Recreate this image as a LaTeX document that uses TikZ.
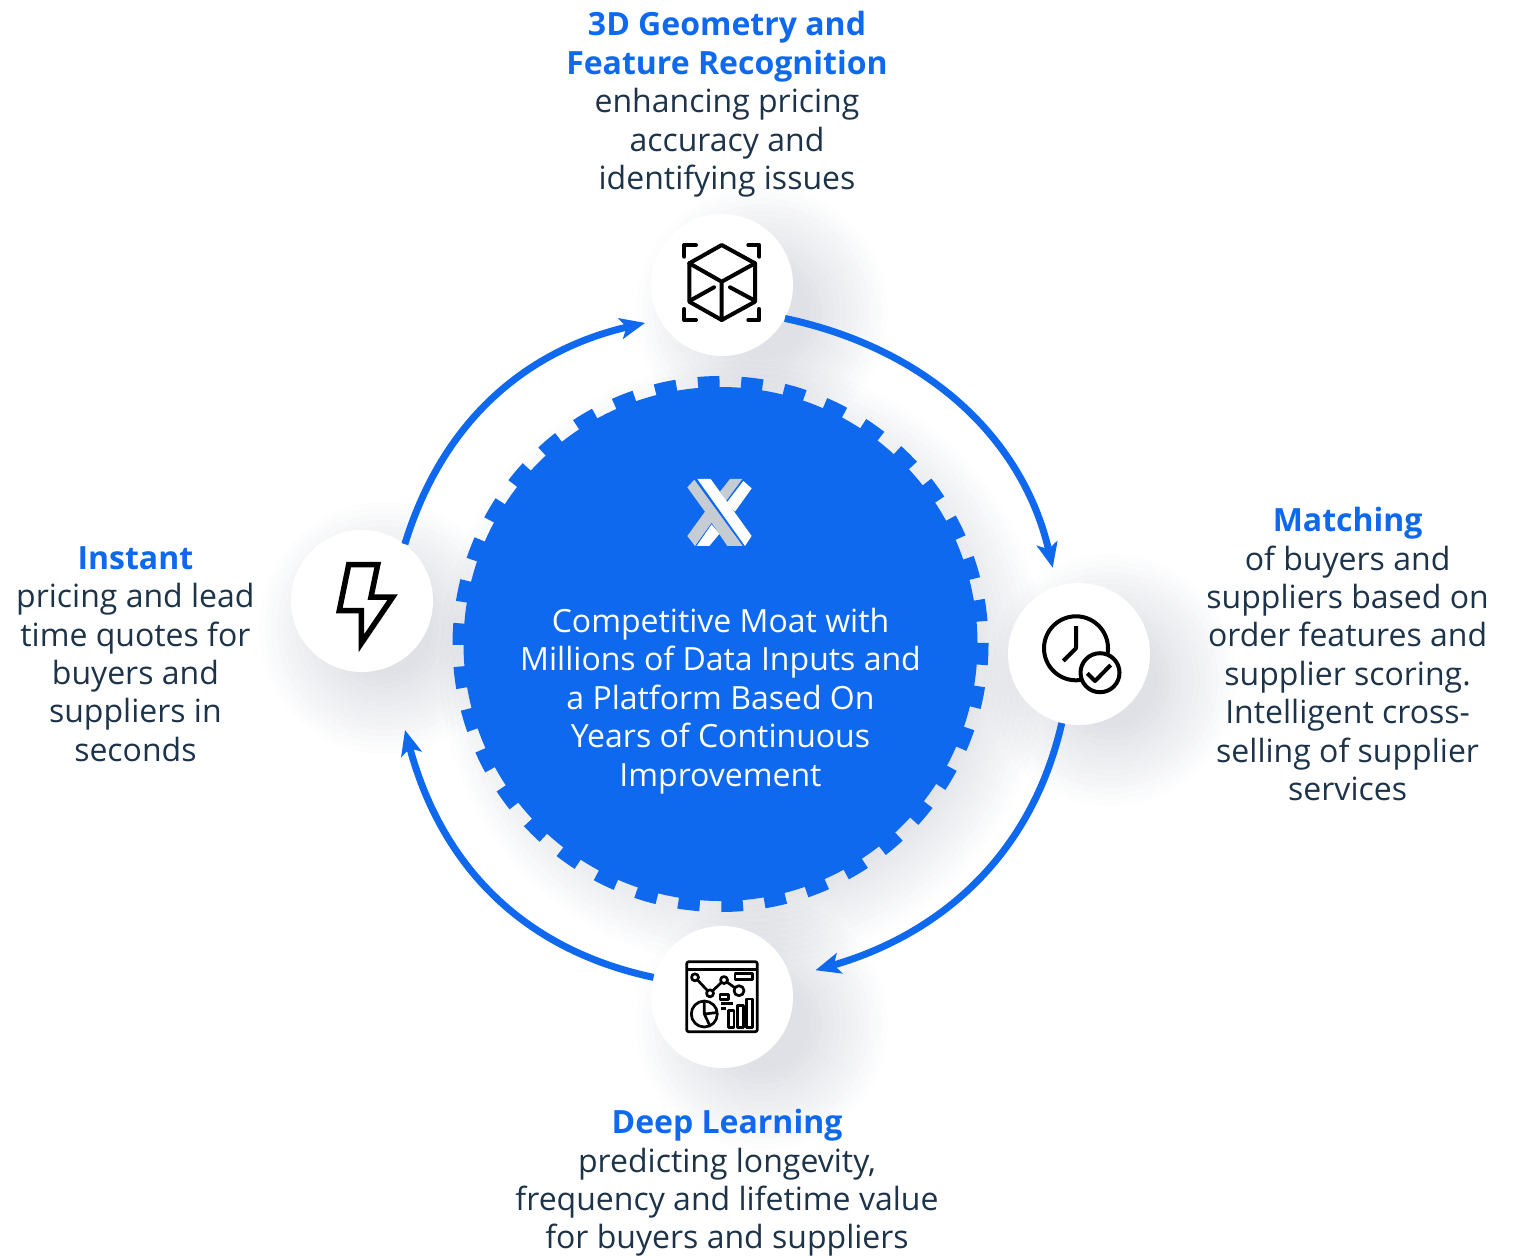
\documentclass[tikz,border=0pt]{standalone}
\usepackage{fontspec}
\usepackage{xcolor}
\setmainfont{Open Sans}
\usetikzlibrary{arrows.meta,positioning}
\definecolor{moatblue}{HTML}{0F69EE}
\definecolor{inkblue}{HTML}{1C3349}
\definecolor{shadowink}{HTML}{3A4A66}
\definecolor{logogray}{HTML}{C5CCD3}
\newcommand{\softshadow}[3]{%
	\foreach \s in {0,...,13}
		\fill[shadowink, opacity=0.011] (#1,#2) circle ({#3+6*\s});
}
\newcommand{\headline}[1]{{\bfseries\color{moatblue}#1}\\}
\tikzset{
	hub/.style={circle, fill=white, minimum size=142pt, inner sep=0pt},
	flow/.style={draw=moatblue, line width=7pt, -{Stealth[length=25pt,width=21pt,inset=6pt]}},
	caption/.style={align=center, inner sep=0pt, text=inkblue, font=\fontsize{32}{38.4}\selectfont},
	glyph/.style={draw=black, line width=4pt, line join=round, line cap=round},
	thin glyph/.style={draw=black, line width=2.7pt, line join=round}
}

\begin{document}
\begin{tikzpicture}[x=1pt, y=-1pt]
	\useasboundingbox (0,0) rectangle (1517,1255);
	% shadows
	\softshadow{762}{312}{48}
	\softshadow{1110}{680}{48}
	\softshadow{762}{1024}{48}
	\softshadow{385}{628}{48}
	\softshadow{742}{664}{225}
	% hubs
	\node[hub] (geom) at (722,285) {};
	\node[hub] (match) at (1079,654) {};
	\node[hub] (learn) at (722,997) {};
	\node[hub] (instant) at (362,601) {};
	\coordinate (instantin) at (405,730);
	% arrows
	\draw[flow, shorten >=19pt] (geom.-28) to[out=-12, in=103] (match.108);
	\draw[flow, shorten >=26pt] (match.-104) to[out=-103, in=16] (learn.16);
	\draw[flow] (learn.164) to[out=168, in=-75] (instantin);
	\draw[flow, shorten >=15pt] (instant.53) to[out=73, in=193] (geom.209);
	% core
	\node[circle, fill=moatblue, minimum size=514pt, inner sep=0pt] (core) at (720.5,644) {};
	\draw[moatblue, line width=12pt, dash pattern=on 21.66pt off 21.66pt, dash phase=0.8pt] (core.center) ++(262,0) arc[start angle=0, end angle=360, radius=262];
	% logo
	\begin{scope}[shift={(670,370)}, x=0.3333pt, y=-0.3333pt]
		\fill[logogray] (52,352) -- (73,329) -- (218,528) -- (172,528) -- (125,458) -- (75,528) -- (52,498) -- (105,425) -- cycle;
		\fill[logogray] (180,327) -- (217,327) -- (168,393) -- (150,365) -- cycle;
		\fill[white] (82,327) -- (122,327) -- (245,498) -- (225,528) -- cycle;
		\fill[white] (220,333) -- (245,355) -- (195,425) -- (170,398) -- cycle;
		\fill[white] (80,528) -- (125,463) -- (148,492) -- (118,528) -- cycle;
	\end{scope}
	% cube
	\draw[glyph] (721.7,245) -- (755,263.3) -- (755,301.7) -- (721.7,320) -- (689.3,301.7) -- (689.3,263.3) -- cycle;
	\draw[glyph] (689.3,263.3) -- (721.7,281.7) -- (755,263.3) (721.7,281.7) -- (721.7,320);
	\draw[glyph] (690,300.7) -- (714,287.3) (730,287.3) -- (755,300.7);
	\draw[glyph] (684.3,256.7) -- (684.3,245) -- (696,245) (748.3,245) -- (759.3,245) -- (759.3,256.7);
	\draw[glyph] (684.3,309) -- (684.3,320) -- (696,320) (748.3,320) -- (759.3,320) -- (759.3,309);
	% clock
	\draw[glyph] (1076,648.3) circle (32);
	\draw[glyph, line cap=butt] (1076,626) -- (1076,648.3) -- (1063.3,661);
	\draw[glyph, fill=white] (1100,672.7) circle (19.5);
	\draw[glyph, line cap=butt] (1087.3,673.3) -- (1095,681) -- (1110.7,665);
	% chart
	\draw[thin glyph, rounded corners=2pt] (686.7,961.7) rectangle (757.3,1031.7);
	\draw[thin glyph] (686.7,969.3) -- (757.3,969.3);
	\draw[thin glyph] (695,977.3) -- (710,993.3) -- (724,980) -- (739,990.7);
	\draw[thin glyph, fill=white] (695,977.3) circle (3.5) (710,993.3) circle (3.5) (724,980) circle (3.5) (739,990.7) circle (5);
	\draw[thin glyph] (735,973.3) rectangle (752.7,979.3) (720,994.3) rectangle (728.3,999.3);
	\draw[thin glyph] (721,1003.3) -- (733.3,1003.3) (721,1008.3) -- (726,1008.3);
	\draw[thin glyph] (728.3,1010.7) rectangle (734,1027.3) (737.3,1005.3) rectangle (743.3,1027.3) (746.7,999) rectangle (752.7,1027.3);
	\draw[thin glyph] (704.3,1014) circle (13);
	\draw[thin glyph] (704.3,1001) -- (704.3,1014) -- (717.3,1012.5) (704.3,1014) -- (710,1026);
	% bolt
	\draw[draw=black, line width=5.5pt, miter limit=6] (348.7,564.7) -- (377.7,564.7) -- (371,597) -- (392.7,597) -- (361.3,643.3) -- (361.3,610.7) -- (339.3,610.7) -- cycle;
	% labels
	\node[caption, above=16.5pt of geom, xshift=5pt] (geomtext) {\headline{3D Geometry and}\headline{Feature Recognition}enhancing pricing\\accuracy and\\identifying issues};
	\node[caption, right=56pt of match] (matchtext) {\headline{Matching}of buyers and\\suppliers based on\\order features and\\supplier scoring.\\Intelligent cross-\\selling of supplier\\services};
	\node[caption, below=41pt of learn, xshift=5pt] (learntext) {\headline{Deep Learning}predicting longevity,\\frequency and lifetime value\\for buyers and suppliers};
	\node[caption, left=36pt of instant, yshift=-53pt] (instanttext) {\headline{Instant}pricing and lead\\time quotes for\\buyers and\\suppliers in\\seconds};
	\node[caption, text=white, below=57pt of core.center, anchor=center] (coretext) {Competitive Moat with\\Millions of Data Inputs and\\a Platform Based On\\Years of Continuous\\Improvement};
\end{tikzpicture}
\end{document}
